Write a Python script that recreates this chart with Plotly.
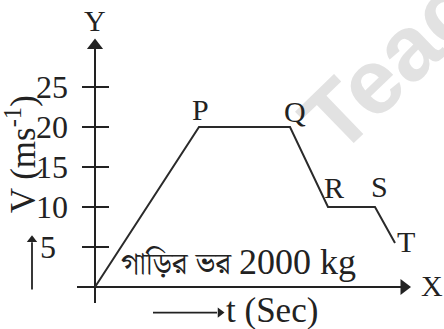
import plotly.graph_objects as go

# velocity–time profile of the car: O -> P -> Q -> R -> S -> T
point_names = ["O", "P", "Q", "R", "S", "T"]
time_values = [0, 10.4, 19.5, 23.3, 28.0, 30.0]
velocity_values = [0, 20, 20, 10, 10, 5.5]

# y-axis ticks
y_tick_values = [5, 10, 15, 20, 25]
y_tick_labels = ["5", "10", "15", "20", "25"]

SERIF = "Liberation Serif, Times New Roman, serif"
BENGALI = "Noto Serif Bengali, Noto Sans Bengali, Lohit Bengali, FreeSerif, serif"
INK = "#222222"

fig = go.Figure()


def seg(xs, ys, width=2, color=INK):
    fig.add_trace(go.Scatter(x=xs, y=ys, mode="lines", line=dict(color=color, width=width),
                             hoverinfo="skip"))


def head(x, y, symbol, size):
    fig.add_trace(go.Scatter(x=[x], y=[y], mode="markers", hoverinfo="skip",
                             marker=dict(symbol=symbol, size=size, color=INK, line=dict(width=0))))


# axes with arrowheads
seg([-1.8, 30.6], [0, 0])
head(30.9, 0, "triangle-right", 14)
seg([0, 0], [-2.0, 29.8])
head(0, 30.2, "triangle-up", 14)

# tick marks crossing the y-axis
tx, ty = [], []
for v in y_tick_values:
    tx += [-1.3, 1.4, None]
    ty += [v, v, None]
seg(tx, ty)

# the velocity graph
seg(time_values, velocity_values, color="#2a2a2a")

# arrows beside the axis titles
seg([-6.3, -6.3], [-0.3, 5.6], width=1.8)
head(-6.3, 5.9, "triangle-up", 9)
seg([5.8, 12.2], [-3.2, -3.2], width=1.8)
head(12.5, -3.2, "triangle-right", 9)

ann = []
# faint watermark behind the labels
ann.append(dict(x=0.922, y=0.862, xref="paper", yref="paper", text="<b>Teach</b>",
                xanchor="center", yanchor="middle",
                showarrow=False, textangle=-44,
                font=dict(family="Liberation Sans, Arial, sans-serif", size=92, color="#e2e2e2")))

# axis letters
ann.append(dict(x=33.7, y=0.2, xref="x", yref="y", text="X", showarrow=False,
                font=dict(family=SERIF, size=30, color=INK)))
ann.append(dict(x=0, y=33.3, xref="x", yref="y", text="Y", showarrow=False,
                font=dict(family=SERIF, size=30, color=INK)))

# y tick labels
for v, lab in zip(y_tick_values, y_tick_labels):
    ann.append(dict(x=-2.0 if v > 5 else -3.2, y=v, xref="x", yref="y", text=lab,
                    showarrow=False, xanchor="right", xshift=-5,
                    font=dict(family=SERIF, size=32, color=INK)))

# y-axis title
ann.append(dict(x=-7.4, y=16.6, xref="x", yref="y", text="V (ms<sup>-1</sup>)",
                showarrow=False, textangle=-90,
                font=dict(family=SERIF, size=35, color=INK)))

# x-axis title
ann.append(dict(x=12.9, y=-2.95, xref="x", yref="y", text="t (Sec)", showarrow=False,
                xanchor="left", font=dict(family=SERIF, size=35, color=INK)))

# point labels
label_offsets = {"P": (0.1, 2.2), "Q": (0.5, 2.0), "R": (0.6, 2.5), "S": (0.4, 2.6), "T": (1.1, 0.25)}
for name, t, v in zip(point_names, time_values, velocity_values):
    if name in label_offsets:
        dx, dy = label_offsets[name]
        ann.append(dict(x=t + dx, y=v + dy, xref="x", yref="y", text=name, showarrow=False,
                        font=dict(family=SERIF, size=30, color=INK)))

# mass of the car
ann.append(dict(x=2.4, y=2.7, xref="x", yref="y",
                text=("গাড়ির ভর <span style='font-family:Liberation Serif, Times New Roman, serif;"
                      "font-size:36px'>2000 kg</span>"),
                showarrow=False, xanchor="left",
                font=dict(family=BENGALI, size=31, color=INK)))

fig.update_layout(
    width=444, height=329,
    margin=dict(l=0, r=0, t=0, b=0),
    paper_bgcolor="white", plot_bgcolor="white",
    showlegend=False,
    xaxis=dict(range=[-9.5, 34.9], visible=False, fixedrange=True),
    yaxis=dict(range=[-5.25, 35.875], visible=False, fixedrange=True),
    annotations=ann,
)

fig.write_html("out.html", config={"displayModeBar": False})
